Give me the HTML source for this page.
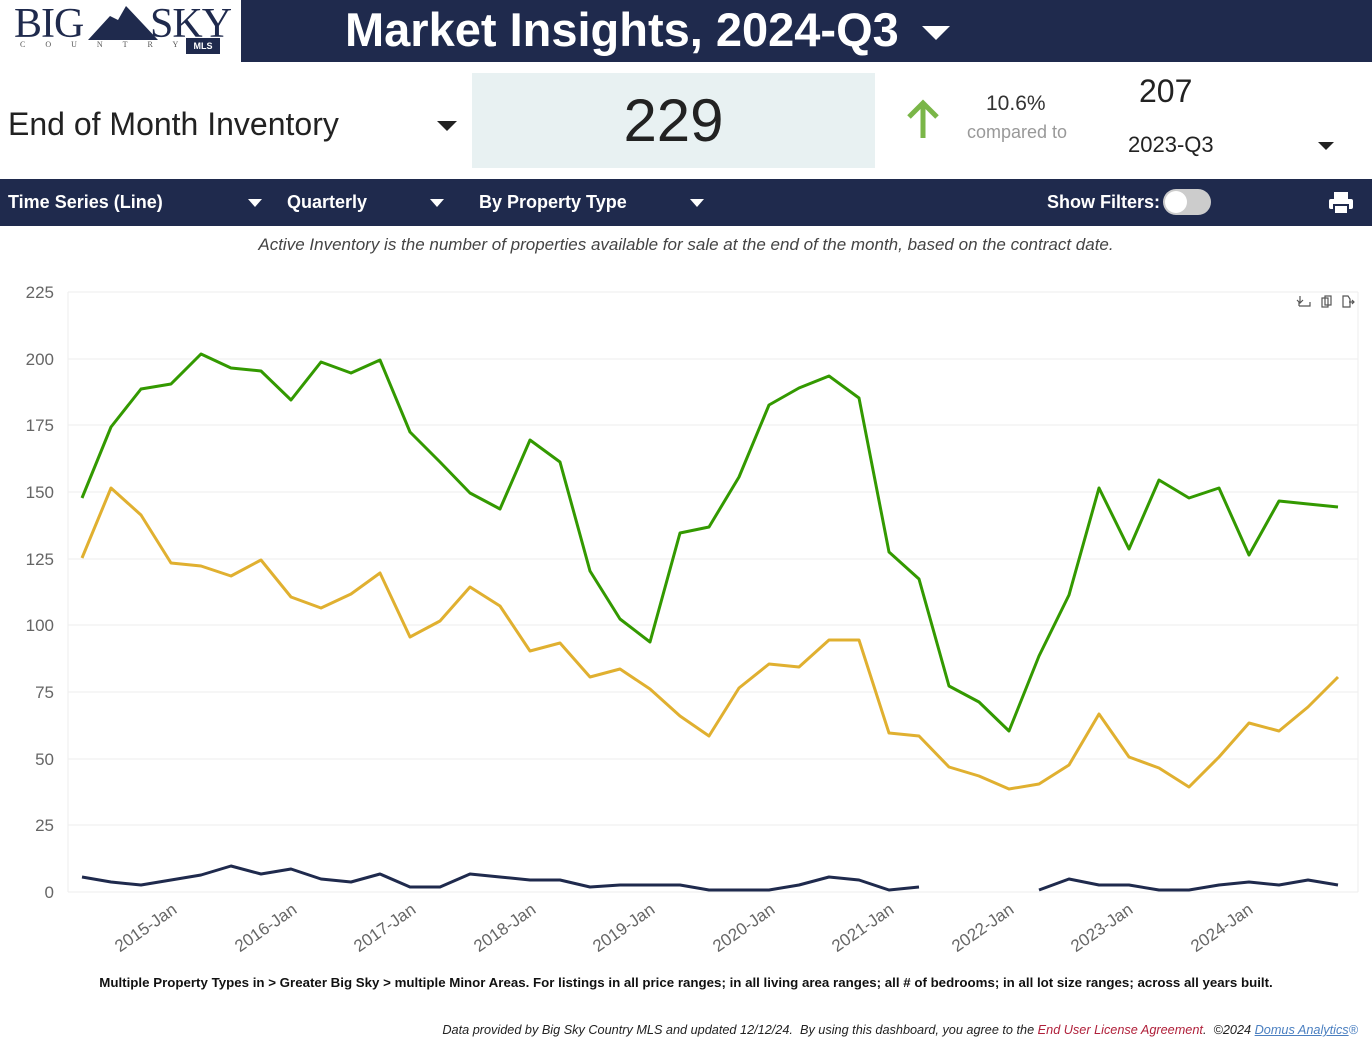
<!DOCTYPE html>
<html><head><meta charset="utf-8"><style>
body{margin:0;width:1372px;height:1052px;background:#fff;font-family:"Liberation Sans",sans-serif;position:relative;overflow:hidden}
.a{position:absolute}
.tri{position:absolute;width:0;height:0;border-left:7px solid transparent;border-right:7px solid transparent;border-top:8px solid #fff}
</style></head><body>
<div class="a" style="left:14px;top:0px;font-family:'Liberation Serif',serif;font-size:42px;color:#1f2a4d;letter-spacing:-1px">BIG</div>
<svg class="a" style="left:88px;top:4px" width="70" height="36"><polygon points="0,36 22,12 30,16 38,2 55,20 70,36" fill="#1f2a4d"/></svg>
<div class="a" style="left:150px;top:0px;font-family:'Liberation Serif',serif;font-size:42px;color:#1f2a4d;letter-spacing:-1px">SKY</div>
<div class="a" style="left:20px;top:40px;font-family:'Liberation Serif',serif;font-size:8px;color:#555;letter-spacing:20px">COUNTRY</div>
<div class="a" style="left:186px;top:38px;width:34px;height:16px;background:#1f2a4d;color:#fff;font-size:9px;font-weight:bold;text-align:center;line-height:16px">MLS</div>
<div class="a" style="left:241px;top:0;width:1131px;height:62px;background:#1f2a4d"></div>
<div class="a" style="left:345px;top:2px;color:#fff;font-size:47px;font-weight:bold">Market Insights, 2024-Q3</div>
<div class="tri" style="left:922px;top:26px;border-left-width:14px;border-right-width:14px;border-top-width:14px"></div>
<div class="a" style="left:8px;top:106px;font-size:32px;color:#222">End of Month Inventory</div>
<div class="tri" style="left:437px;top:121px;border-top-color:#222;border-left-width:10px;border-right-width:10px;border-top-width:10px"></div>
<div class="a" style="left:472px;top:73px;width:403px;height:95px;background:#e8f1f2;text-align:center;font-size:60px;line-height:95px;color:#222">229</div>
<svg class="a" style="left:905px;top:98px" width="36" height="42"><path d="M18 40 V5 M4 19 L18 5 L32 19" stroke="#7ab648" stroke-width="5" fill="none"/></svg>
<div class="a" style="left:986px;top:92px;font-size:21px;color:#333">10.6%</div>
<div class="a" style="left:967px;top:122px;font-size:18px;color:#999">compared to</div>
<div class="a" style="left:1139px;top:73px;font-size:32px;color:#222">207</div>
<div class="a" style="left:1128px;top:132px;font-size:22px;color:#222">2023-Q3</div>
<div class="tri" style="left:1318px;top:142px;border-top-color:#222;border-left-width:8px;border-right-width:8px;border-top-width:8px"></div>
<div class="a" style="left:0;top:179px;width:1372px;height:47px;background:#1f2a4d"></div>
<div class="a" style="left:8px;top:192px;color:#fff;font-size:18px;font-weight:bold">Time Series (Line)</div>
<div class="tri" style="left:248px;top:199px"></div>
<div class="a" style="left:287px;top:192px;color:#fff;font-size:18px;font-weight:bold">Quarterly</div>
<div class="tri" style="left:430px;top:199px"></div>
<div class="a" style="left:479px;top:192px;color:#fff;font-size:18px;font-weight:bold">By Property Type</div>
<div class="tri" style="left:690px;top:199px"></div>
<div class="a" style="left:1047px;top:192px;color:#fff;font-size:18px;font-weight:bold">Show Filters:</div>
<div class="a" style="left:1163px;top:189px;width:48px;height:26px;border-radius:13px;background:#ccc"></div>
<div class="a" style="left:1165px;top:191px;width:22px;height:22px;border-radius:11px;background:#fff"></div>
<svg class="a" style="left:1328px;top:190px" width="26" height="26"><rect x="6" y="2" width="14" height="7" fill="#fff"/><rect x="1" y="9" width="24" height="10" rx="2" fill="#fff"/><rect x="6" y="15" width="14" height="9" fill="#fff" stroke="#1f2a4d" stroke-width="2"/></svg>
<div class="a" style="left:0;top:235px;width:1372px;text-align:center;font-size:17px;font-style:italic;color:#444">Active Inventory is the number of properties available for sale at the end of the month, based on the contract date.</div>
<svg class="a" style="left:0;top:270px" width="1372" height="700" viewBox="0 270 1372 700">
<g stroke="#eee" stroke-width="1">
<line x1="68" y1="292" x2="1358" y2="292"/><line x1="68" y1="359" x2="1358" y2="359"/><line x1="68" y1="425" x2="1358" y2="425"/><line x1="68" y1="492" x2="1358" y2="492"/><line x1="68" y1="559" x2="1358" y2="559"/><line x1="68" y1="625" x2="1358" y2="625"/><line x1="68" y1="692" x2="1358" y2="692"/><line x1="68" y1="759" x2="1358" y2="759"/><line x1="68" y1="825" x2="1358" y2="825"/><line x1="68" y1="892" x2="1358" y2="892"/>
<line x1="68" y1="292" x2="68" y2="892"/><line x1="1358" y1="292" x2="1358" y2="892"/></g>
<g font-size="17" fill="#666" text-anchor="end">
<text x="54" y="298">225</text><text x="54" y="365">200</text><text x="54" y="431">175</text><text x="54" y="498">150</text><text x="54" y="565">125</text><text x="54" y="631">100</text><text x="54" y="698">75</text><text x="54" y="765">50</text><text x="54" y="831">25</text><text x="54" y="898">0</text></g>
<g font-size="17" fill="#666" text-anchor="end">
<text transform="translate(178,912) rotate(-35)">2015-Jan</text>
<text transform="translate(298,912) rotate(-35)">2016-Jan</text>
<text transform="translate(417,912) rotate(-35)">2017-Jan</text>
<text transform="translate(537,912) rotate(-35)">2018-Jan</text>
<text transform="translate(656,912) rotate(-35)">2019-Jan</text>
<text transform="translate(776,912) rotate(-35)">2020-Jan</text>
<text transform="translate(895,912) rotate(-35)">2021-Jan</text>
<text transform="translate(1015,912) rotate(-35)">2022-Jan</text>
<text transform="translate(1134,912) rotate(-35)">2023-Jan</text>
<text transform="translate(1254,912) rotate(-35)">2024-Jan</text></g>
<g fill="none" stroke-width="3" stroke-linejoin="round">
<polyline stroke="#339900" points="82,498 111,427 141,389 171,384 201,354 231,368 261,371 291,400 321,362 351,373 380,360 410,432 440,462 470,493 500,509 530,440 560,462 590,571 620,619 650,642 680,533 709,527 739,477 769,405 799,388 829,376 859,398 889,552 919,579 949,686 979,702 1009,731 1039,656 1069,595 1099,488 1129,549 1159,480 1189,498 1219,488 1249,555 1279,501 1308,504 1338,507"/>
<polyline stroke="#e0b030" points="82,558 111,488 141,515 171,563 201,566 231,576 261,560 291,597 321,608 351,594 380,573 410,637 440,621 470,587 500,606 530,651 560,643 590,677 620,669 650,689 680,716 709,736 739,688 769,664 799,667 829,640 859,640 889,733 919,736 949,767 979,776 1009,789 1039,784 1069,765 1099,714 1129,757 1159,768 1189,787 1219,757 1249,723 1279,731 1308,707 1338,677"/>
<polyline stroke="#1f2a4d" points="82,877 111,882 141,885 171,880 201,875 231,866 261,874 291,869 321,879 351,882 380,874 410,887 440,887 470,874 500,877 530,880 560,880 590,887 620,885 650,885 680,885 709,890 739,890 769,890 799,885 829,877 859,880 889,890 919,887"/>
<polyline stroke="#1f2a4d" points="1039,890 1069,879 1099,885 1129,885 1159,890 1189,890 1219,885 1249,882 1279,885 1308,880 1338,885"/>
</g>
<g fill="none" stroke="#555" stroke-width="1.2"><path d="M1300 303v-7M1297 300l3 3 3-3M1299 306h11v-4M1299 306v-4"/><rect x="1322" y="298" width="6" height="9"/><rect x="1325" y="296" width="6" height="9"/><path d="M1343 296h5l2 3v8h-7zM1349 302h5M1352 300l2 2-2 2"/></g>
</svg>
<div class="a" style="left:0;top:975px;width:1372px;text-align:center;font-size:13.3px;font-weight:bold;color:#111">Multiple Property Types in &gt; Greater Big Sky &gt; multiple Minor Areas. For listings in all price ranges; in all living area ranges; all # of bedrooms; in all lot size ranges; across all years built.</div>
<div class="a" style="right:14px;top:1023px;font-size:12.7px;font-style:italic;color:#222">Data provided by Big Sky Country MLS and updated 12/12/24.&nbsp; By using this dashboard, you agree to the <span style="color:#b0203a">End User License Agreement</span>.&nbsp; ©2024 <span style="color:#4a7fc0;text-decoration:underline">Domus Analytics</span><span style="color:#4a7fc0">®</span></div>
</body></html>
